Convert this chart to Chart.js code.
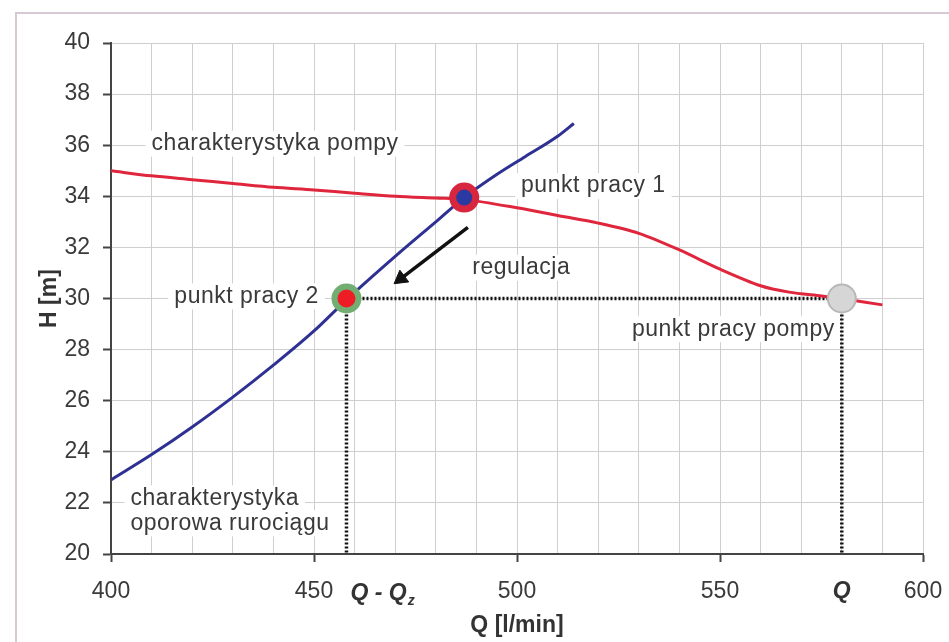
<!DOCTYPE html>
<html>
<head>
<meta charset="utf-8">
<script src="https://cdn.jsdelivr.net/npm/chart.js@4.4.1/dist/chart.umd.min.js"></script>
<style>
  body { margin: 0; background: #fff; }
  canvas { display: block; }
</style>
</head>
<body>
<canvas id="wykres" width="949" height="642"></canvas>
<script>
// charakterystyka pompy (Q [l/min], H [m])
const pompaQ = [400, 410, 420, 430, 440, 450, 460, 470, 480, 487, 500, 510, 520, 530, 540, 550, 560, 567, 575, 580, 590];
const pompaH = [35.0, 34.8, 34.65, 34.5, 34.35, 34.25, 34.12, 34.0, 33.93, 33.88, 33.55, 33.25, 32.95, 32.55, 31.9, 31.15, 30.5, 30.25, 30.1, 30.0, 29.75];

// charakterystyka oporowa rurociągu
const rurociagQ = [400, 410, 420, 430, 440, 450, 458, 470, 480, 487, 495, 502, 510, 514];
const rurociagH = [22.9, 23.89, 24.97, 26.14, 27.39, 28.73, 29.95, 31.65, 33.0, 33.95, 34.85, 35.55, 36.35, 36.85];

// punkty pracy: 1, 2, pompy
const punktyQ = [487, 458, 580];
const punktyH = [33.95, 30.0, 30.0];

// strzałka regulacji
const strzalkaQ = [487.9, 471.4];
const strzalkaH = [32.78, 30.78];

const osX = [400, 450, 500, 550, 600];
const osY = [20, 22, 24, 26, 28, 30, 32, 34, 36, 38, 40];

const FONT = "'Liberation Sans', Arial, sans-serif";
const pary = (xs, ys) => xs.map((x, i) => ({ x: x, y: ys[i] }));

const opisy = {
  id: 'opisy',
  beforeDraw(chart) {
    const ctx = chart.ctx;
    ctx.save();
    ctx.strokeStyle = '#d8c8d6';
    ctx.lineWidth = 2;
    ctx.beginPath();
    ctx.moveTo(16, 700);
    ctx.lineTo(16, 13);
    ctx.lineTo(960, 13);
    ctx.stroke();
    ctx.restore();
  },
  beforeDatasetsDraw(chart) {
    const ctx = chart.ctx;
    const sx = chart.scales.x, sy = chart.scales.y;
    const teksty = [
      ['charakterystyka pompy', 410, 36.06],
      ['punkt pracy 1', 501, 34.4],
      ['regulacja', 489, 31.2],
      ['punkt pracy 2', 415.6, 30.08],
      ['punkt pracy pompy', 528.3, 28.8],
      ['charakterystyka', 404.8, 22.18],
      ['oporowa rurociągu', 404.8, 21.2]
    ];
    ctx.save();
    ctx.font = '23px ' + FONT;
    ctx.letterSpacing = '0.5px';
    ctx.textBaseline = 'middle';
    ctx.textAlign = 'left';
    teksty.forEach(([t, q, h]) => {
      const x = sx.getPixelForValue(q), y = sy.getPixelForValue(h);
      const w = ctx.measureText(t).width;
      ctx.fillStyle = '#fff';
      ctx.fillRect(x - 6, y - 13, w + 12, 26);
      ctx.fillStyle = '#3a3a3a';
      ctx.fillText(t, x, y);
    });
    ctx.restore();
  },
  afterDraw(chart) {
    const ctx = chart.ctx;
    const sx = chart.scales.x;
    const y = 594;
    ctx.save();
    ctx.fillStyle = '#333';
    ctx.textBaseline = 'middle';
    ctx.font = 'italic bold 23px ' + FONT;
    let x = sx.getPixelForValue(punktyQ[1]) + 4;
    ctx.textAlign = 'left';
    ctx.fillText('Q - Q', x, y);
    const w = ctx.measureText('Q - Q').width;
    ctx.font = 'italic bold 14px ' + FONT;
    ctx.fillText('z', x + w + 1, y + 7);
    ctx.font = 'italic bold 23px ' + FONT;
    ctx.textAlign = 'center';
    ctx.fillText('Q', sx.getPixelForValue(punktyQ[2]), y - 2);
    ctx.restore();
  }
};

new Chart(document.getElementById('wykres'), {
  type: 'line',
  data: {
    datasets: [
      {
        data: pary(punktyQ, punktyH),
        showLine: false,
        pointRadius: [11.5, 12, 14],
        pointBorderWidth: [7, 6, 2],
        pointBackgroundColor: ['#2a3aa2', '#ee1c24', '#d6d6d6'],
        pointBorderColor: ['#d8263f', '#72ae72', '#b8b8b8']
      },
      {
        data: pary(strzalkaQ, strzalkaH),
        borderColor: '#111',
        borderWidth: 3.5,
        pointRadius: [0, 8.5],
        pointStyle: 'triangle',
        rotation: 233,
        pointBackgroundColor: '#111',
        pointBorderColor: '#111',
        pointBorderWidth: 1
      },
      {
        data: pary(pompaQ, pompaH),
        borderColor: '#e0263c',
        borderWidth: 3,
        pointRadius: 0,
        tension: 0.3
      },
      {
        data: pary(rurociagQ, rurociagH),
        borderColor: '#2e3192',
        borderWidth: 3,
        pointRadius: 0,
        cubicInterpolationMode: 'monotone'
      },
      {
        data: [{ x: punktyQ[1], y: punktyH[1] }, { x: punktyQ[2], y: punktyH[2] }],
        borderColor: '#111', borderWidth: 3.5, borderDash: [2, 2], pointRadius: 0
      },
      {
        data: [{ x: punktyQ[1], y: punktyH[1] }, { x: punktyQ[1], y: osY[0] }],
        borderColor: '#111', borderWidth: 3.5, borderDash: [2, 2], pointRadius: 0
      },
      {
        data: [{ x: punktyQ[2], y: punktyH[2] }, { x: punktyQ[2], y: osY[0] }],
        borderColor: '#111', borderWidth: 3.5, borderDash: [2, 2], pointRadius: 0
      }
    ]
  },
  options: {
    responsive: false,
    animation: false,
    layout: { padding: { left: 0, top: 43, right: 26, bottom: 0 } },
    plugins: { legend: { display: false }, tooltip: { enabled: false } },
    scales: {
      x: {
        type: 'linear',
        min: osX[0],
        max: osX[osX.length - 1],
        afterFit(s) { s.height = 88; s.paddingRight = 0; s.paddingLeft = 0; },
        ticks: {
          stepSize: 10,
          autoSkip: false,
          maxRotation: 0,
          padding: 16,
          color: '#3a3a3a',
          font: { family: FONT, size: 23 },
          callback: v => osX.includes(v) ? String(v) : ''
        },
        grid: {
          color: '#cfcfcf',
          lineWidth: 1,
          tickLength: 8,
          tickWidth: 2,
          tickColor: c => osX.includes(c.tick && c.tick.value) ? '#444' : 'rgba(0,0,0,0)'
        },
        border: { color: '#444', width: 2 },
        title: {
          display: true,
          text: 'Q [l/min]',
          color: '#333',
          font: { family: FONT, size: 23, weight: 'bold' },
          padding: { top: 0, bottom: 3 }
        }
      },
      y: {
        min: osY[0],
        max: osY[osY.length - 1],
        afterFit(s) { s.width = 111; s.paddingTop = 0; s.paddingBottom = 0; },
        ticks: {
          stepSize: 2,
          padding: 13,
          color: '#3a3a3a',
          font: { family: FONT, size: 23 },
          callback: v => osY.includes(v) ? String(v) : ''
        },
        grid: { color: '#cfcfcf', lineWidth: 1, tickLength: 8, tickWidth: 2, tickColor: '#444' },
        border: { color: '#444', width: 2 },
        title: {
          display: true,
          text: 'H [m]',
          color: '#333',
          font: { family: FONT, size: 23, weight: 'bold' },
          padding: { top: 36, bottom: 0 }
        }
      }
    }
  },
  plugins: [opisy]
});
</script>
</body>
</html>
